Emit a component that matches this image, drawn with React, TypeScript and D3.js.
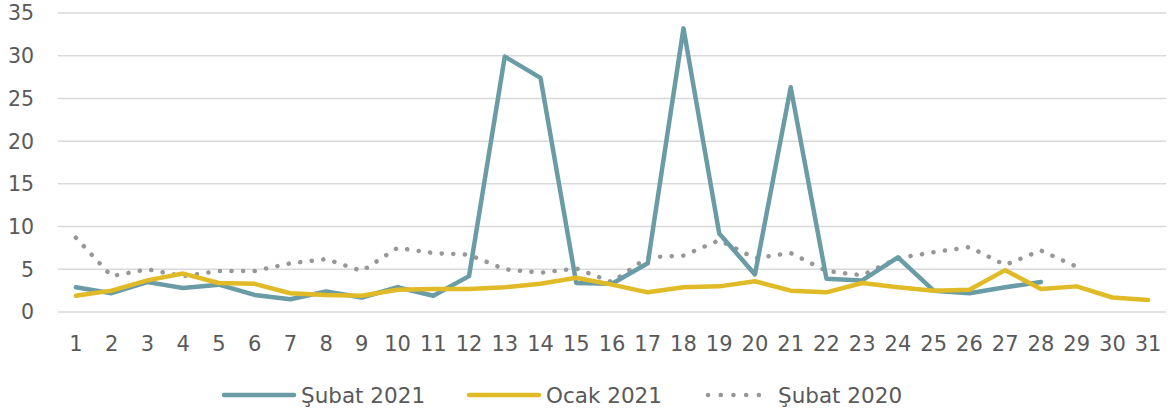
import React, { useEffect, useRef } from 'react'
import * as d3 from 'd3'

const days = d3.range(1, 32).map(String)
const yTicks = [0, 5, 10, 15, 20, 25, 30, 35]

const subat2021 = [2.9, 2.2, 3.5, 2.8, 3.2, 2.0, 1.5, 2.4, 1.7, 2.9, 1.9, 4.2, 29.9, 27.4, 3.4, 3.3, 5.7, 33.2, 9.2, 4.4, 26.3, 3.9, 3.7, 6.4, 2.5, 2.2, 2.9, 3.5]
const ocak2021 = [1.9, 2.5, 3.7, 4.5, 3.4, 3.3, 2.2, 2.0, 1.9, 2.6, 2.7, 2.7, 2.9, 3.3, 4.0, 3.2, 2.3, 2.9, 3.0, 3.6, 2.5, 2.3, 3.4, 2.9, 2.5, 2.6, 4.9, 2.7, 3.0, 1.7, 1.4]
const subat2020 = [8.7, 4.2, 5.0, 4.2, 4.8, 4.8, 5.7, 6.2, 4.8, 7.5, 6.9, 6.7, 5.0, 4.6, 5.1, 3.5, 6.4, 6.6, 8.4, 6.3, 6.9, 4.8, 4.3, 6.3, 7.0, 7.6, 5.5, 7.2, 5.3]

const seriesList = [
  { name: 'Şubat 2021', values: subat2021, color: '#6a9ca6', dash: null },
  { name: 'Ocak 2021', values: ocak2021, color: '#e0bb27', dash: null },
  { name: 'Şubat 2020', values: subat2020, color: '#979797', dash: '0.1 11.5' },
]

const W = 1173
const H = 416
const margin = { left: 58, right: 7, top: 13, bottom: 104 }
const FONT = '"DejaVu Sans", sans-serif'

export default function App() {
  const ref = useRef<SVGSVGElement>(null)

  useEffect(() => {
    const svg = d3.select(ref.current)
    svg.selectAll('*').remove()

    const x = d3.scaleBand().domain(days).range([margin.left, W - margin.right])
    const y = d3.scaleLinear().domain([0, 35]).range([H - margin.bottom, margin.top])
    const cx = (i: number) => x(days[i])! + x.bandwidth() / 2

    // grid
    svg.append('g')
      .selectAll('line')
      .data(yTicks)
      .join('line')
      .attr('x1', margin.left)
      .attr('x2', W - margin.right)
      .attr('y1', d => y(d))
      .attr('y2', d => y(d))
      .attr('stroke', '#d9d9d9')
      .attr('stroke-width', 1.5)

    svg.append('g')
      .selectAll('text')
      .data(yTicks)
      .join('text')
      .attr('x', 34)
      .attr('y', d => y(d))
      .attr('dy', '0.36em')
      .attr('text-anchor', 'end')
      .attr('font-family', FONT)
      .attr('font-size', 20.5)
      .attr('fill', '#595959')
      .text(d => d)

    svg.append('g')
      .selectAll('text')
      .data(days)
      .join('text')
      .attr('x', d => x(d)! + x.bandwidth() / 2)
      .attr('y', 343)
      .attr('dy', '0.36em')
      .attr('text-anchor', 'middle')
      .attr('font-family', FONT)
      .attr('font-size', 21)
      .attr('fill', '#595959')
      .text(d => d)

    const line = d3.line<number>().x((_, i) => cx(i)).y(d => y(d))

    // dotted one underneath, solid ones on top
    const order = [2, 0, 1]
    order.forEach(k => {
      const s = seriesList[k]
      const p = svg.append('path')
        .datum(s.values)
        .attr('d', line)
        .attr('fill', 'none')
        .attr('stroke', s.color)
        .attr('stroke-width', 4.5)
        .attr('stroke-linejoin', 'round')
        .attr('stroke-linecap', 'round')
      if (s.dash) p.attr('stroke-dasharray', s.dash)
    })

    // legend
    const legendX = [224, 469, 707]
    const lg = svg.append('g')
    seriesList.forEach((s, i) => {
      const g = lg.append('g').attr('transform', `translate(${legendX[i]},395)`)
      const l = g.append('line')
        .attr('x1', 0).attr('x2', 70)
        .attr('stroke', s.color)
        .attr('stroke-width', 4.5)
        .attr('stroke-linecap', 'round')
      if (s.dash) l.attr('stroke-dasharray', '0.1 12.6').attr('x1', 1).attr('x2', 64)
      g.append('text')
        .attr('x', s.dash ? 71 : 77)
        .attr('dy', '0.36em')
        .attr('font-family', FONT)
        .attr('font-size', 21.5)
        .attr('fill', '#595959')
        .text(s.name)
    })
  }, [])

  return (
    <svg ref={ref} width={W} height={H} style={{ position: 'absolute', left: 0, top: 0, background: '#fff' }} />
  )
}
